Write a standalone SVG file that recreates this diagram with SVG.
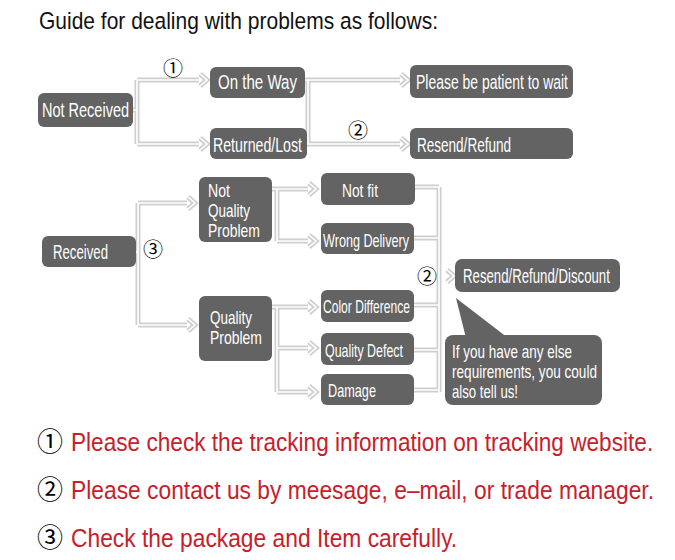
<svg xmlns="http://www.w3.org/2000/svg" xmlns:xlink="http://www.w3.org/1999/xlink" width="675" height="560" viewBox="0 0 675 560">
<style>
.box{fill:#636363}
.lb{fill:#fff;font-family:"Liberation Sans",Arial,sans-serif;font-size:20.5px}
.ls{fill:#fff;font-family:"Liberation Sans",Arial,sans-serif;font-size:18.5px}
.co{fill:none;stroke:#cfcfcf;stroke-width:5;stroke-linejoin:miter}
.ci{fill:none;stroke:#fff;stroke-width:1.6}
.cn{font-family:"Noto Sans CJK SC","DejaVu Sans",sans-serif;fill:#000}
.red{fill:#c8202a;font-family:"Liberation Sans",Arial,sans-serif;font-size:26px}
</style>
<defs>
<g id="wires">
<path d="M133,110H137M137,80V144M137,80H199M137,144H199M200,74L207,80L200,86M200,138L207,144L200,150"/>
<path d="M305,80H400M307,144H400M308,80V144M401,74L408,80L401,86M401,138L408,144L401,150"/>
<path d="M136,252H138M138,203V325M138,203H187M138,325H187M188,197L195,203L188,209M188,319L195,325L188,331"/>
<path d="M272,189H308M277,189V241M277,241H308M309,183L316,189L309,195M309,235L316,241L309,247"/>
<path d="M272,307H308M277,307V392M277,348H308M277,392H308M309,301L316,307L309,313M309,342L316,348L309,354M309,386L316,392L309,398"/>
<path d="M414,187H439M414,238H439M414,305H439M414,350H439M414,390H439M439,187V392M447,270L454,276L447,282"/>
</g>
</defs>
<rect width="675" height="560" fill="#fff"/>
<text x="39" y="29" font-family="Liberation Sans,Arial,sans-serif" font-size="24.5" textLength="399" lengthAdjust="spacingAndGlyphs" fill="#111">Guide for dealing with problems as follows:</text>
<g id="connectors">
<use xlink:href="#wires" class="co"/>
<use xlink:href="#wires" class="ci"/>
<text class="cn" x="163" y="76" font-size="20">①</text>
<text class="cn" x="348" y="138" font-size="20">②</text>
<text class="cn" x="143" y="257" font-size="20">③</text>
<text class="cn" x="417" y="284" font-size="20">②</text>
</g>
<g id="n-not-received"><rect class="box" x="38" y="93" width="95" height="34" rx="6"/><text class="lb" x="42" y="117" textLength="87" lengthAdjust="spacingAndGlyphs">Not Received</text></g>
<g id="n-on-the-way"><rect class="box" x="210" y="67" width="95" height="31" rx="6"/><text class="lb" x="218" y="89" textLength="79" lengthAdjust="spacingAndGlyphs">On the Way</text></g>
<g id="n-returned"><rect class="box" x="210" y="128" width="97" height="31" rx="6"/><text class="lb" x="213" y="152" textLength="89" lengthAdjust="spacingAndGlyphs">Returned/Lost</text></g>
<g id="n-patient"><rect class="box" x="410" y="65" width="163" height="33" rx="6"/><text class="lb" x="416" y="89" textLength="152" lengthAdjust="spacingAndGlyphs">Please be patient to wait</text></g>
<g id="n-resend"><rect class="box" x="410" y="128" width="163" height="31" rx="6"/><text class="lb" x="417" y="152" textLength="94" lengthAdjust="spacingAndGlyphs">Resend/Refund</text></g>
<g id="n-received"><rect class="box" x="42" y="236" width="94" height="31" rx="6"/><text class="lb" x="53" y="259" textLength="55" lengthAdjust="spacingAndGlyphs">Received</text></g>
<g id="n-not-quality"><rect class="box" x="199" y="177" width="73" height="65" rx="6"/><text class="ls" x="208" y="197" textLength="22" lengthAdjust="spacingAndGlyphs">Not</text><text class="ls" x="208" y="217" textLength="42" lengthAdjust="spacingAndGlyphs">Quality</text><text class="ls" x="208" y="237" textLength="52" lengthAdjust="spacingAndGlyphs">Problem</text></g>
<g id="n-quality"><rect class="box" x="199" y="296" width="73" height="65" rx="6"/><text class="ls" x="210" y="324" textLength="42" lengthAdjust="spacingAndGlyphs">Quality</text><text class="ls" x="210" y="344" textLength="52" lengthAdjust="spacingAndGlyphs">Problem</text></g>
<g id="n-not-fit"><rect class="box" x="321" y="173" width="94" height="32" rx="6"/><text class="ls" x="342" y="197" textLength="36" lengthAdjust="spacingAndGlyphs">Not fit</text></g>
<g id="n-wrong"><rect class="box" x="321" y="223" width="93" height="31" rx="6"/><text class="ls" x="323" y="247" textLength="86" lengthAdjust="spacingAndGlyphs">Wrong Delivery</text></g>
<g id="n-color"><rect class="box" x="321" y="290" width="93" height="32" rx="6"/><text class="ls" x="323" y="313" textLength="87" lengthAdjust="spacingAndGlyphs">Color Difference</text></g>
<g id="n-defect"><rect class="box" x="321" y="333" width="93" height="32" rx="6"/><text class="ls" x="325" y="357" textLength="78" lengthAdjust="spacingAndGlyphs">Quality Defect</text></g>
<g id="n-damage"><rect class="box" x="321" y="374" width="93" height="31" rx="6"/><text class="ls" x="328" y="397" textLength="48" lengthAdjust="spacingAndGlyphs">Damage</text></g>
<g id="n-resend-discount"><rect class="box" x="455" y="259" width="165" height="33" rx="7"/><text class="lb" transform="translate(463,283) scale(0.72,1)" textLength="204" lengthAdjust="spacingAndGlyphs">Resend/Refund/Discount</text></g>
<g id="n-bubble"><rect class="box" x="445" y="335" width="157" height="70" rx="8"/><polygon class="box" points="456,298 508,338 466,338"/>
<text class="ls" x="452" y="358" textLength="120" lengthAdjust="spacingAndGlyphs">If you have any else</text>
<text class="ls" x="452" y="378" textLength="145" lengthAdjust="spacingAndGlyphs">requirements, you could</text>
<text class="ls" x="452" y="398" textLength="66" lengthAdjust="spacingAndGlyphs">also tell us!</text></g>
<g id="notes">
<text class="cn" x="37" y="451" font-size="26">①</text>
<text class="red" transform="translate(71,451) scale(0.82,1)" textLength="710" lengthAdjust="spacingAndGlyphs">Please check the tracking information on tracking website.</text>
<text class="cn" x="37" y="499" font-size="26">②</text>
<text class="red" transform="translate(71,499) scale(0.82,1)" textLength="711" lengthAdjust="spacingAndGlyphs">Please contact us by meesage, e–mail, or trade manager.</text>
<text class="cn" x="37" y="547" font-size="26">③</text>
<text class="red" transform="translate(71,547) scale(0.82,1)" textLength="471" lengthAdjust="spacingAndGlyphs">Check the package and Item carefully.</text>
</g>
</svg>
